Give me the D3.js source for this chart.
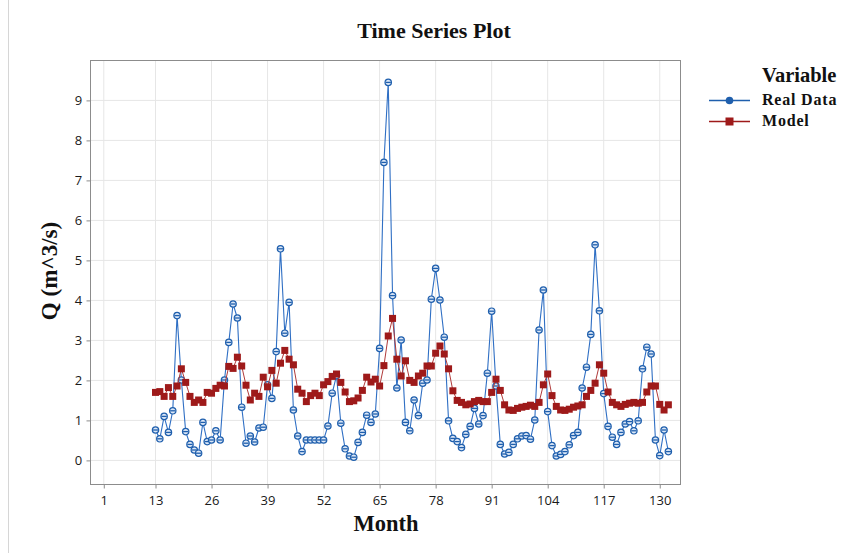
<!DOCTYPE html>
<html>
<head>
<meta charset="utf-8">
<script src="https://cdn.jsdelivr.net/npm/d3@7"></script>
<style>
  html, body { margin: 0; padding: 0; background: #fff; }
  svg { display: block; }
</style>
</head>
<body>
<svg id="chart" width="849" height="553"></svg>
<script>
// Monthly discharge: observed flow vs. model output, months 13–132
const firstMonth = 13;
const realData = [
  0.76, 0.54, 1.10, 0.70, 1.24, 3.62, 2.01, 0.72, 0.40, 0.26, 0.18, 0.95,
  0.47, 0.51, 0.74, 0.51, 2.01, 2.95, 3.91, 3.56, 1.33, 0.43, 0.61, 0.46,
  0.81, 0.83, 1.89, 1.55, 2.72, 5.29, 3.18, 3.95, 1.26, 0.61, 0.22, 0.51,
  0.51, 0.51, 0.51, 0.51, 0.86, 1.68, 2.12, 0.93, 0.29, 0.11, 0.08, 0.45,
  0.70, 1.13, 0.95, 1.16, 2.80, 7.45, 9.45, 4.12, 1.81, 3.01, 0.95, 0.74,
  1.51, 1.12, 1.93, 2.01, 4.03, 4.80, 4.01, 3.08, 0.99, 0.55, 0.47, 0.32,
  0.65, 0.85, 1.30, 0.91, 1.12, 2.18, 3.73, 1.86, 0.40, 0.16, 0.20, 0.40,
  0.54, 0.61, 0.62, 0.53, 1.01, 3.26, 4.26, 1.22, 0.37, 0.11, 0.15, 0.22,
  0.39, 0.62, 0.70, 1.81, 2.33, 3.15, 5.39, 3.74, 1.67, 0.85, 0.58, 0.40,
  0.70, 0.91, 0.97, 0.74, 0.99, 2.29, 2.83, 2.66, 0.51, 0.12, 0.76, 0.22
];
const modelData = [
  1.70, 1.72, 1.60, 1.82, 1.60, 1.86, 2.29, 1.95, 1.60, 1.45, 1.51, 1.45,
  1.70, 1.68, 1.80, 1.88, 1.86, 2.35, 2.30, 2.58, 2.36, 1.88, 1.51, 1.68,
  1.60, 2.08, 1.84, 2.25, 1.93, 2.43, 2.75, 2.53, 2.39, 1.78, 1.68, 1.47,
  1.62, 1.68, 1.62, 1.89, 1.97, 2.10, 2.16, 1.95, 1.71, 1.47, 1.49, 1.56,
  1.75, 2.08, 1.96, 2.03, 1.86, 2.37, 3.11, 3.55, 2.53, 2.11, 2.49, 2.00,
  1.95, 2.11, 2.18, 2.36, 2.36, 2.68, 2.86, 2.66, 2.29, 1.74, 1.50, 1.45,
  1.39, 1.41, 1.47, 1.50, 1.47, 1.47, 1.70, 2.03, 1.75, 1.39, 1.26, 1.25,
  1.30, 1.33, 1.35, 1.38, 1.35, 1.45, 1.89, 2.16, 1.62, 1.35, 1.26, 1.25,
  1.28, 1.33, 1.36, 1.39, 1.60, 1.75, 1.93, 2.39, 2.18, 1.71, 1.45, 1.39,
  1.35, 1.40, 1.43, 1.45, 1.43, 1.45, 1.71, 1.86, 1.86, 1.40, 1.26, 1.39
];
const xTicks = [1, 13, 26, 39, 52, 65, 78, 91, 104, 117, 130];
const yTicks = [0, 1, 2, 3, 4, 5, 6, 7, 8, 9];
const seriesNames = ["Real Data", "Model"];

const blue = "#1f5fad";
const red = "#9e1a1a";
const serif = "'Liberation Serif', 'Times New Roman', serif";
const sans = "'Open Sans', 'Noto Sans', sans-serif";

const svg = d3.select("#chart");
const plot = { left: 90, right: 680, top: 60, bottom: 484 };

const x = d3.scaleLinear().domain([-2.2, 134.7]).range([plot.left, plot.right]);
const y = d3.scaleLinear().domain([-0.59, 10.01]).range([plot.bottom, plot.top]);

// outer figure edge
svg.append("line").attr("x1", 8.5).attr("x2", 8.5).attr("y1", 0).attr("y2", 553)
  .attr("stroke", "#d6d6d6");

// gridlines
const grid = svg.append("g");
grid.selectAll(".gx").data(xTicks).join("line")
  .attr("x1", d => x(d)).attr("x2", d => x(d))
  .attr("y1", plot.top).attr("y2", plot.bottom)
  .attr("stroke", "#e6e6e6").attr("stroke-width", 1);
grid.selectAll(".gy").data(yTicks).join("line")
  .attr("x1", plot.left).attr("x2", plot.right)
  .attr("y1", d => y(d)).attr("y2", d => y(d))
  .attr("stroke", "#e6e6e6").attr("stroke-width", 1);

// plot frame
svg.append("rect")
  .attr("x", plot.left + 0.5).attr("y", plot.top + 0.5)
  .attr("width", plot.right - plot.left).attr("height", plot.bottom - plot.top)
  .attr("fill", "none").attr("stroke", "#8c8c8c");

// axes
const xAxis = svg.append("g").attr("transform", `translate(0,${plot.bottom + 0.5})`)
  .call(d3.axisBottom(x).tickValues(xTicks).tickSize(4).tickSizeOuter(0));
const yAxis = svg.append("g").attr("transform", `translate(${plot.left + 0.5},0)`)
  .call(d3.axisLeft(y).tickValues(yTicks).tickSize(4).tickSizeOuter(0));
[xAxis, yAxis].forEach(a => {
  a.select(".domain").remove();
  a.selectAll(".tick line").attr("stroke", "#8c8c8c");
  a.selectAll(".tick text").attr("font-family", sans).attr("font-size", 13)
    .attr("fill", "#1a1a1a");
});
xAxis.selectAll(".tick text").attr("dy", "1.05em");
yAxis.selectAll(".tick text").attr("dx", "-0.1em");

const idx = d3.range(realData.length);
const monthOf = i => firstMonth + i;

// observed series
const lineReal = d3.line().x(i => x(monthOf(i))).y(i => y(realData[i]));
svg.append("path").datum(idx).attr("d", lineReal)
  .attr("fill", "none").attr("stroke", "#2f6fc4").attr("stroke-width", 1.1);

const realPts = svg.append("g").selectAll("g").data(idx).join("g")
  .attr("transform", i => `translate(${x(monthOf(i))},${y(realData[i])})`);
realPts.append("circle").attr("r", 3.2)
  .attr("fill", "#dbe7f7").attr("stroke", blue).attr("stroke-width", 1.2);
realPts.append("line").attr("x1", -2.6).attr("x2", 2.6)
  .attr("stroke", blue).attr("stroke-width", 1.3);

// model series
const lineModel = d3.line().x(i => x(monthOf(i))).y(i => y(modelData[i]));
svg.append("path").datum(idx).attr("d", lineModel)
  .attr("fill", "none").attr("stroke", "#b03a3a").attr("stroke-width", 1);
svg.append("g").selectAll("rect").data(idx).join("rect")
  .attr("x", i => x(monthOf(i)) - 3.5).attr("y", i => y(modelData[i]) - 3.5)
  .attr("width", 7).attr("height", 7).attr("fill", red);

// title and axis labels
svg.append("text").attr("x", 434).attr("y", 37.5).attr("text-anchor", "middle")
  .attr("font-family", serif).attr("font-weight", "bold").attr("font-size", 22)
  .attr("fill", "#111").text("Time Series Plot");
svg.append("text").attr("x", 386).attr("y", 531).attr("text-anchor", "middle")
  .attr("font-family", serif).attr("font-weight", "bold").attr("font-size", 22.5)
  .attr("fill", "#111").text("Month");
svg.append("text").attr("transform", "translate(57,271) rotate(-90)")
  .attr("text-anchor", "middle")
  .attr("font-family", serif).attr("font-weight", "bold").attr("font-size", 23)
  .attr("fill", "#111").text("Q (m^3/s)");

// legend
const lg = svg.append("g");
lg.append("text").attr("x", 762).attr("y", 81.5)
  .attr("font-family", serif).attr("font-weight", "bold").attr("font-size", 20.5)
  .attr("fill", "#111").text("Variable");
seriesNames.forEach((name, k) => {
  const yy = 100.5 + k * 21;
  const col = k === 0 ? blue : red;
  lg.append("line").attr("x1", 709).attr("x2", 750).attr("y1", yy).attr("y2", yy)
    .attr("stroke", col).attr("stroke-width", 1.3);
  if (k === 0) {
    lg.append("circle").attr("cx", 729.5).attr("cy", yy).attr("r", 3.8).attr("fill", blue);
  } else {
    lg.append("rect").attr("x", 725.5).attr("y", yy - 4).attr("width", 8).attr("height", 8)
      .attr("fill", red);
  }
  lg.append("text").attr("x", 762).attr("y", yy + 4.5)
    .attr("font-family", serif).attr("font-weight", "bold").attr("font-size", 16)
    .attr("letter-spacing", "0.8px").attr("fill", "#111").text(name);
});
</script>
</body>
</html>
